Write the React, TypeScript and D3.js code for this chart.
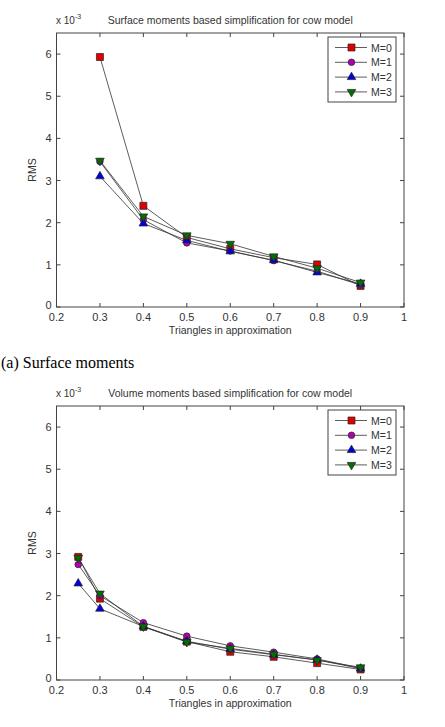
import * as d3 from 'd3';
import React from 'react';

// fraction of triangles kept
const xSurface = [0.3, 0.4, 0.5, 0.6, 0.7, 0.8, 0.9];
const xVolume = [0.25, 0.3, 0.4, 0.5, 0.6, 0.7, 0.8, 0.9];

// RMS values (x 10^-3)
const surfaceM0 = [5.93, 2.4, 1.65, 1.38, 1.17, 1.01, 0.5];
const surfaceM1 = [3.45, 2.07, 1.52, 1.33, 1.1, 0.85, 0.52];
const surfaceM2 = [3.1, 1.98, 1.58, 1.32, 1.11, 0.82, 0.55];
const surfaceM3 = [3.47, 2.15, 1.7, 1.5, 1.2, 0.92, 0.58];

const volumeM0 = [2.92, 1.93, 1.26, 0.91, 0.67, 0.55, 0.4, 0.25];
const volumeM1 = [2.74, 2.0, 1.36, 1.04, 0.81, 0.66, 0.5, 0.28];
const volumeM2 = [2.29, 1.69, 1.27, 0.92, 0.73, 0.6, 0.48, 0.27];
const volumeM3 = [2.9, 2.05, 1.27, 0.9, 0.75, 0.61, 0.47, 0.3];

const seriesNames = ['M=0', 'M=1', 'M=2', 'M=3'];
const markerColors = ['#e00000', '#b000b0', '#0000e0', '#007000'];
const markerShapes = [d3.symbolSquare, d3.symbolCircle, d3.symbolTriangle, 'down'];

const xTicks = [0.2, 0.3, 0.4, 0.5, 0.6, 0.7, 0.8, 0.9, 1];
const yTicks = [0, 1, 2, 3, 4, 5, 6];

const font = '"Liberation Sans", Arial, sans-serif';

function Marker({ i, x, y }: { i: number; x: number; y: number }) {
  const shape = markerShapes[i];
  let path: string;
  let transform = `translate(${x},${y})`;
  if (shape === 'down') {
    path = d3.symbol(d3.symbolTriangle, 32)()!;
    transform += ' rotate(180)';
  } else if (shape === d3.symbolSquare) {
    path = d3.symbol(shape, 49)()!;
  } else if (shape === d3.symbolCircle) {
    path = d3.symbol(shape, 34)()!;
  } else {
    path = d3.symbol(shape as d3.SymbolType, 32)()!;
  }
  return <path d={path} transform={transform} fill={markerColors[i]} stroke="#222" strokeWidth={0.7} />;
}

function Panel({ top, title, xs, series }: { top: number; title: string; xs: number[]; series: number[][] }) {
  const left = 56.5;
  const right = 404;
  const axTop = top;
  const axBottom = top + 274;
  const x = d3.scaleLinear().domain([0.2, 1]).range([left, right]);
  const y = d3.scaleLinear().domain([0, 6.5]).range([axBottom, axTop]);
  const line = d3
    .line<number>()
    .x((_, j) => x(xs[j]))
    .y((d) => y(d));
  const tickLen = 4;
  const legX = 328;
  const legY = axTop + 4;
  return (
    <g fontFamily={font}>
      <rect x={left} y={axTop} width={right - left} height={axBottom - axTop} fill="#fff" stroke="#444" strokeWidth={1} />
      {xTicks.map((t) => (
        <g key={t}>
          <line x1={x(t)} x2={x(t)} y1={axBottom} y2={axBottom - tickLen} stroke="#444" />
          <line x1={x(t)} x2={x(t)} y1={axTop} y2={axTop + tickLen} stroke="#444" />
          <text x={x(t)} y={axBottom + 13.5} textAnchor="middle" fontSize={11} fill="#333">
            {t === 1 ? '1' : t.toFixed(1)}
          </text>
        </g>
      ))}
      {yTicks.map((t) => (
        <g key={t}>
          <line x1={left} x2={left + tickLen} y1={y(t)} y2={y(t)} stroke="#444" />
          <line x1={right} x2={right - tickLen} y1={y(t)} y2={y(t)} stroke="#444" />
          <text x={left - 5} y={y(t) + (t === 0 ? 1.5 : 4)} textAnchor="end" fontSize={11} fill="#333">
            {t}
          </text>
        </g>
      ))}
      <text x={56} y={axTop - 9} fontSize={10} fill="#333">
        x 10
        <tspan dy={-5} fontSize={7}>
          -3
        </tspan>
      </text>
      <text x={(left + right) / 2} y={axTop - 9} textAnchor="middle" fontSize={10.5} fill="#333">
        {title}
      </text>
      <text x={(left + right) / 2} y={axBottom + 27} textAnchor="middle" fontSize={10.5} fill="#333">
        Triangles in approximation
      </text>
      <text transform={`translate(36,${y(3.25)}) rotate(-90)`} textAnchor="middle" fontSize={10.5} fill="#333">
        RMS
      </text>
      {series.map((s, i) => (
        <path key={i} d={line(s)!} fill="none" stroke="#333" strokeWidth={0.8} />
      ))}
      {series.map((s, i) =>
        s.map((v, j) => <Marker key={`${i}-${j}`} i={i} x={x(xs[j])} y={y(v)} />)
      )}
      <rect x={legX} y={legY} width={68} height={65} fill="#fff" stroke="#444" strokeWidth={1} />
      {seriesNames.map((n, i) => {
        const ly = legY + 10.5 + i * 14.8;
        return (
          <g key={n}>
            <line x1={335} x2={367} y1={ly} y2={ly} stroke="#333" strokeWidth={0.8} />
            <Marker i={i} x={351.5} y={ly} />
            <text x={371} y={ly + 4} fontSize={10.5} fill="#333">
              {n}
            </text>
          </g>
        );
      })}
    </g>
  );
}

export default function App() {
  return (
    <svg
      width={445}
      height={727}
      style={{ position: 'absolute', left: 0, top: 0, background: '#fff' }}
    >
      <Panel
        top={33}
        title="Surface moments based simplification for cow model"
        xs={xSurface}
        series={[surfaceM0, surfaceM1, surfaceM2, surfaceM3]}
      />
      <text x={1} y={368} fontFamily='"Liberation Serif", "Times New Roman", serif' fontSize={16} fill="#000">
        (a) Surface moments
      </text>
      <Panel
        top={406}
        title="Volume moments based simplification for cow model"
        xs={xVolume}
        series={[volumeM0, volumeM1, volumeM2, volumeM3]}
      />
    </svg>
  );
}
